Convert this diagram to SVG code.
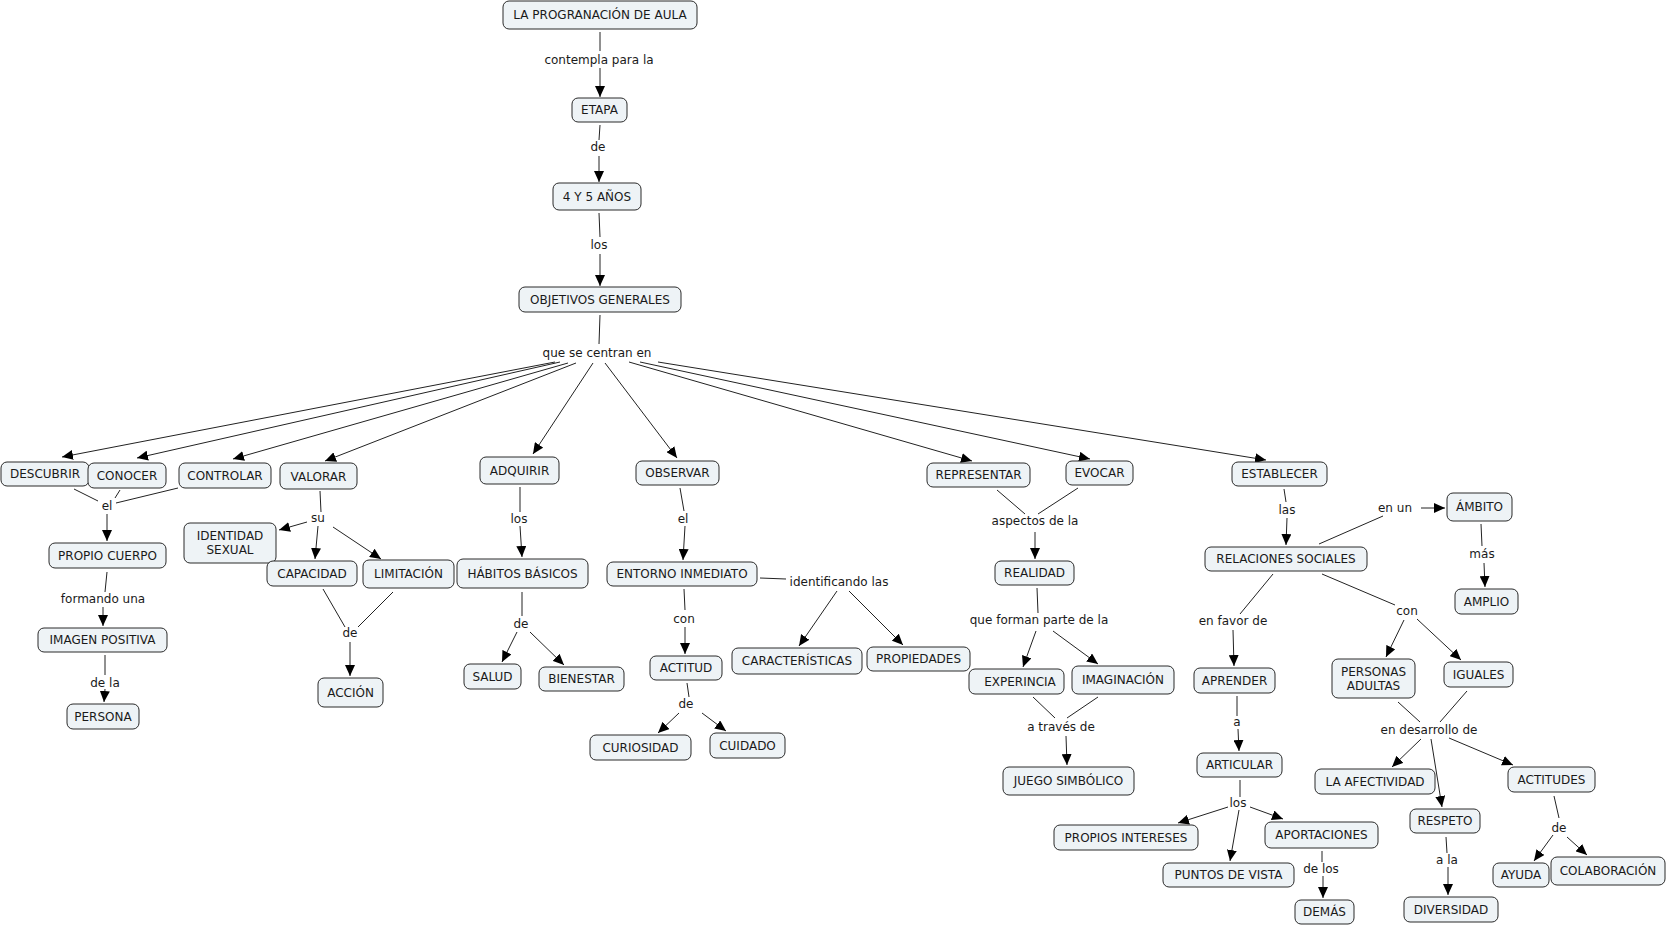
<svg xmlns="http://www.w3.org/2000/svg" width="1667" height="927" viewBox="0 0 1667 927">
<style>
.n rect{fill:#eef3f6;stroke:#2a2a2a;stroke-width:1}
text{font-family:"DejaVu Sans",Verdana,sans-serif;font-size:12px;fill:#1a1a1a;text-anchor:middle}
#links line{stroke:#222;stroke-width:1}
#links line.a{marker-end:url(#ah)}
</style>
<defs>
<marker id="ah" viewBox="0 0 11 10" refX="11" refY="5" markerWidth="11" markerHeight="10" markerUnits="userSpaceOnUse" orient="auto"><path d="M0,0 L11,5 L0,10 z" fill="#000"/></marker>
</defs>
<rect width="1667" height="927" fill="#fff"/>
<g id="links">
<line x1="600" y1="32" x2="600" y2="51"/>
<line class="a" x1="600" y1="68" x2="600" y2="97"/>
<line x1="600" y1="125" x2="599" y2="140"/>
<line class="a" x1="599" y1="156" x2="599" y2="182"/>
<line x1="599" y1="213" x2="600" y2="237"/>
<line class="a" x1="600" y1="254" x2="600" y2="286"/>
<line x1="600" y1="315" x2="599" y2="344"/>
<line class="a" x1="555" y1="362" x2="62" y2="457"/>
<line class="a" x1="560" y1="362" x2="137" y2="458"/>
<line class="a" x1="568" y1="363" x2="233" y2="459"/>
<line class="a" x1="576" y1="363" x2="325" y2="461"/>
<line class="a" x1="593" y1="363" x2="533" y2="454"/>
<line class="a" x1="605" y1="363" x2="677" y2="458"/>
<line class="a" x1="629" y1="362" x2="972" y2="461"/>
<line class="a" x1="640" y1="362" x2="1090" y2="459"/>
<line class="a" x1="658" y1="362" x2="1266" y2="460"/>
<line x1="74" y1="489" x2="98" y2="501"/>
<line x1="120" y1="490" x2="115" y2="498"/>
<line x1="178" y1="488" x2="116" y2="503"/>
<line class="a" x1="107" y1="514" x2="107" y2="541"/>
<line x1="107" y1="572" x2="105" y2="592"/>
<line class="a" x1="103" y1="607" x2="103" y2="626"/>
<line x1="105" y1="655" x2="105" y2="675"/>
<line class="a" x1="105" y1="689" x2="104" y2="702"/>
<line x1="320" y1="491" x2="321" y2="512"/>
<line class="a" x1="307" y1="522" x2="279" y2="530"/>
<line class="a" x1="318" y1="526" x2="315" y2="559"/>
<line class="a" x1="333" y1="527" x2="381" y2="559"/>
<line x1="323" y1="589" x2="345" y2="627"/>
<line x1="393" y1="592" x2="358" y2="627"/>
<line class="a" x1="350" y1="642" x2="350" y2="676"/>
<line x1="520" y1="487" x2="520" y2="512"/>
<line class="a" x1="520" y1="526" x2="522" y2="557"/>
<line x1="522" y1="592" x2="522" y2="616"/>
<line class="a" x1="517" y1="632" x2="502" y2="662"/>
<line class="a" x1="530" y1="632" x2="564" y2="665"/>
<line x1="680" y1="488" x2="684" y2="511"/>
<line class="a" x1="685" y1="526" x2="683" y2="560"/>
<line x1="684" y1="589" x2="685" y2="610"/>
<line class="a" x1="685" y1="627" x2="685" y2="654"/>
<line x1="687" y1="683" x2="689" y2="697"/>
<line class="a" x1="679" y1="713" x2="658" y2="733"/>
<line class="a" x1="702" y1="713" x2="726" y2="731"/>
<line x1="760" y1="578" x2="786" y2="579"/>
<line class="a" x1="837" y1="591" x2="799" y2="646"/>
<line class="a" x1="849" y1="591" x2="903" y2="645"/>
<line x1="997" y1="490" x2="1025" y2="514"/>
<line x1="1078" y1="488" x2="1038" y2="514"/>
<line class="a" x1="1035" y1="532" x2="1035" y2="559"/>
<line x1="1037" y1="588" x2="1038" y2="613"/>
<line class="a" x1="1036" y1="631" x2="1023" y2="667"/>
<line class="a" x1="1053" y1="631" x2="1098" y2="664"/>
<line x1="1033" y1="697" x2="1055" y2="718"/>
<line x1="1098" y1="697" x2="1067" y2="718"/>
<line class="a" x1="1066" y1="736" x2="1067" y2="765"/>
<line x1="1284" y1="489" x2="1286" y2="502"/>
<line class="a" x1="1287" y1="518" x2="1286" y2="545"/>
<line x1="1319" y1="544" x2="1383" y2="516"/>
<line class="a" x1="1421" y1="508" x2="1445" y2="508"/>
<line x1="1481" y1="524" x2="1482" y2="546"/>
<line class="a" x1="1484" y1="563" x2="1485" y2="587"/>
<line x1="1273" y1="574" x2="1240" y2="614"/>
<line class="a" x1="1233" y1="630" x2="1234" y2="666"/>
<line x1="1237" y1="696" x2="1237" y2="716"/>
<line class="a" x1="1238" y1="729" x2="1239" y2="751"/>
<line x1="1240" y1="780" x2="1240" y2="797"/>
<line class="a" x1="1228" y1="807" x2="1178" y2="823"/>
<line class="a" x1="1239" y1="810" x2="1230" y2="861"/>
<line class="a" x1="1250" y1="807" x2="1283" y2="819"/>
<line x1="1322" y1="851" x2="1322" y2="862"/>
<line class="a" x1="1323" y1="876" x2="1323" y2="898"/>
<line x1="1322" y1="574" x2="1395" y2="605"/>
<line class="a" x1="1404" y1="620" x2="1386" y2="657"/>
<line class="a" x1="1417" y1="619" x2="1461" y2="660"/>
<line x1="1398" y1="702" x2="1420" y2="722"/>
<line x1="1467" y1="691" x2="1440" y2="722"/>
<line class="a" x1="1421" y1="739" x2="1392" y2="767"/>
<line class="a" x1="1431" y1="739" x2="1442" y2="807"/>
<line class="a" x1="1449" y1="738" x2="1513" y2="765"/>
<line x1="1446" y1="837" x2="1447" y2="853"/>
<line class="a" x1="1448" y1="867" x2="1448" y2="895"/>
<line x1="1554" y1="796" x2="1559" y2="818"/>
<line class="a" x1="1553" y1="835" x2="1534" y2="861"/>
<line class="a" x1="1567" y1="837" x2="1587" y2="855"/>
</g>
<g id="labels">
<text x="599" y="64">contempla para la</text>
<text x="598" y="151">de</text>
<text x="599" y="249">los</text>
<text x="597" y="357">que se centran en</text>
<text x="107" y="510">el</text>
<text x="103" y="603">formando una</text>
<text x="105" y="687">de la</text>
<text x="318" y="522">su</text>
<text x="350" y="637">de</text>
<text x="519" y="523">los</text>
<text x="521" y="628">de</text>
<text x="683" y="523">el</text>
<text x="684" y="623">con</text>
<text x="686" y="708">de</text>
<text x="839" y="586">identificando las</text>
<text x="1035" y="525">aspectos de la</text>
<text x="1039" y="624">que forman parte de la</text>
<text x="1061" y="731">a través de</text>
<text x="1287" y="514">las</text>
<text x="1395" y="512">en un</text>
<text x="1482" y="558">más</text>
<text x="1233" y="625">en favor de</text>
<text x="1407" y="615">con</text>
<text x="1237" y="726">a</text>
<text x="1429" y="734">en desarrollo de</text>
<text x="1238" y="807">los</text>
<text x="1321" y="873">de los</text>
<text x="1447" y="864">a la</text>
<text x="1559" y="832">de</text>
</g>
<g id="n1" class="n"><rect x="503" y="1" width="194" height="28" rx="6"/><text x="600" y="19.4">LA PROGRANACIÓN DE AULA</text></g>
<g id="n2" class="n"><rect x="572" y="98" width="55" height="24" rx="6"/><text x="599.5" y="114.4">ETAPA</text></g>
<g id="n3" class="n"><rect x="553" y="183" width="88" height="27" rx="6"/><text x="597" y="201">4 Y 5 AÑOS</text></g>
<g id="n4" class="n"><rect x="519" y="287" width="162" height="25" rx="6"/><text x="600" y="304">OBJETIVOS GENERALES</text></g>
<g id="n5" class="n"><rect x="1" y="462" width="88" height="24" rx="6"/><text x="45" y="478">DESCUBRIR</text></g>
<g id="n6" class="n"><rect x="88" y="463" width="78" height="25" rx="6"/><text x="127" y="480">CONOCER</text></g>
<g id="n7" class="n"><rect x="179" y="463" width="92" height="25" rx="6"/><text x="225" y="480">CONTROLAR</text></g>
<g id="n8" class="n"><rect x="280" y="463" width="77" height="26" rx="6"/><text x="318.5" y="480.5">VALORAR</text></g>
<g id="n9" class="n"><rect x="49" y="543" width="117" height="25" rx="6"/><text x="107.5" y="560">PROPIO CUERPO</text></g>
<g id="n10" class="n"><rect x="38" y="628" width="129" height="24" rx="6"/><text x="102.5" y="644.4">IMAGEN POSITIVA</text></g>
<g id="n11" class="n"><rect x="67" y="704" width="72" height="25" rx="6"/><text x="103" y="721">PERSONA</text></g>
<g id="n12" class="n"><rect x="184" y="523" width="92" height="40" rx="6"/><text x="230" y="540.4">IDENTIDAD</text><text x="230" y="554.4">SEXUAL</text></g>
<g id="n13" class="n"><rect x="267" y="561" width="90" height="25" rx="6"/><text x="312" y="578">CAPACIDAD</text></g>
<g id="n14" class="n"><rect x="363" y="560" width="91" height="28" rx="6"/><text x="408.5" y="578.4">LIMITACIÓN</text></g>
<g id="n15" class="n"><rect x="318" y="678" width="65" height="29" rx="6"/><text x="350.5" y="697">ACCIÓN</text></g>
<g id="n16" class="n"><rect x="480" y="457" width="79" height="27" rx="6"/><text x="519.5" y="474.5">ADQUIRIR</text></g>
<g id="n17" class="n"><rect x="457" y="559" width="131" height="29" rx="6"/><text x="522.5" y="578">HÁBITOS BÁSICOS</text></g>
<g id="n18" class="n"><rect x="464" y="664" width="57" height="25" rx="6"/><text x="492.5" y="681">SALUD</text></g>
<g id="n19" class="n"><rect x="539" y="667" width="85" height="24" rx="6"/><text x="581.5" y="683.4">BIENESTAR</text></g>
<g id="n20" class="n"><rect x="636" y="461" width="83" height="24" rx="6"/><text x="677.5" y="477.4">OBSERVAR</text></g>
<g id="n21" class="n"><rect x="607" y="562" width="150" height="24" rx="6"/><text x="682" y="578.4">ENTORNO INMEDIATO</text></g>
<g id="n22" class="n"><rect x="650" y="656" width="72" height="24" rx="6"/><text x="686" y="672.4">ACTITUD</text></g>
<g id="n23" class="n"><rect x="590" y="735" width="101" height="25" rx="6"/><text x="640.5" y="752">CURIOSIDAD</text></g>
<g id="n24" class="n"><rect x="710" y="733" width="75" height="25" rx="6"/><text x="747.5" y="750">CUIDADO</text></g>
<g id="n25" class="n"><rect x="732" y="648" width="130" height="26" rx="6"/><text x="797" y="665.4">CARACTERÍSTICAS</text></g>
<g id="n26" class="n"><rect x="867" y="647" width="103" height="24" rx="6"/><text x="918.5" y="663.4">PROPIEDADES</text></g>
<g id="n27" class="n"><rect x="927" y="463" width="103" height="24" rx="6"/><text x="978.5" y="479.4">REPRESENTAR</text></g>
<g id="n28" class="n"><rect x="1066" y="461" width="67" height="24" rx="6"/><text x="1099.5" y="477.4">EVOCAR</text></g>
<g id="n29" class="n"><rect x="995" y="561" width="79" height="24" rx="6"/><text x="1034.5" y="577.4">REALIDAD</text></g>
<g id="n30" class="n"><rect x="969" y="669" width="95" height="25" rx="6"/><text x="1020" y="686">EXPERINCIA</text></g>
<g id="n31" class="n"><rect x="1072" y="666" width="102" height="28" rx="6"/><text x="1123" y="684.4">IMAGINACIÓN</text></g>
<g id="n32" class="n"><rect x="1003" y="767" width="131" height="28" rx="6"/><text x="1068.5" y="785.4">JUEGO SIMBÓLICO</text></g>
<g id="n33" class="n"><rect x="1232" y="462" width="95" height="24" rx="6"/><text x="1279.5" y="478.4">ESTABLECER</text></g>
<g id="n34" class="n"><rect x="1205" y="547" width="162" height="24" rx="6"/><text x="1286" y="563.4">RELACIONES SOCIALES</text></g>
<g id="n35" class="n"><rect x="1447" y="493" width="65" height="28" rx="6"/><text x="1479.5" y="511.4">ÁMBITO</text></g>
<g id="n36" class="n"><rect x="1455" y="589" width="63" height="25" rx="6"/><text x="1486.5" y="606">AMPLIO</text></g>
<g id="n37" class="n"><rect x="1194" y="668" width="81" height="25" rx="6"/><text x="1234.5" y="685">APRENDER</text></g>
<g id="n38" class="n"><rect x="1197" y="753" width="85" height="24" rx="6"/><text x="1239.5" y="769.4">ARTICULAR</text></g>
<g id="n39" class="n"><rect x="1054" y="825" width="144" height="25" rx="6"/><text x="1126" y="842">PROPIOS INTERESES</text></g>
<g id="n40" class="n"><rect x="1163" y="863" width="131" height="24" rx="6"/><text x="1228.5" y="879.4">PUNTOS DE VISTA</text></g>
<g id="n41" class="n"><rect x="1265" y="822" width="113" height="26" rx="6"/><text x="1321.5" y="839.4">APORTACIONES</text></g>
<g id="n42" class="n"><rect x="1295" y="900" width="59" height="24" rx="6"/><text x="1324.5" y="916.4">DEMÁS</text></g>
<g id="n43" class="n"><rect x="1332" y="659" width="83" height="39" rx="6"/><text x="1373.5" y="676.4">PERSONAS</text><text x="1373.5" y="690.4">ADULTAS</text></g>
<g id="n44" class="n"><rect x="1444" y="662" width="69" height="25" rx="6"/><text x="1478.5" y="679">IGUALES</text></g>
<g id="n45" class="n"><rect x="1315" y="769" width="120" height="25" rx="6"/><text x="1375" y="786">LA AFECTIVIDAD</text></g>
<g id="n46" class="n"><rect x="1410" y="809" width="70" height="24" rx="6"/><text x="1445" y="825.4">RESPETO</text></g>
<g id="n47" class="n"><rect x="1404" y="897" width="94" height="25" rx="6"/><text x="1451" y="914">DIVERSIDAD</text></g>
<g id="n48" class="n"><rect x="1508" y="767" width="87" height="25" rx="6"/><text x="1551.5" y="784">ACTITUDES</text></g>
<g id="n49" class="n"><rect x="1493" y="863" width="56" height="24" rx="6"/><text x="1521" y="879.4">AYUDA</text></g>
<g id="n50" class="n"><rect x="1551" y="857" width="114" height="28" rx="6"/><text x="1608" y="875.4">COLABORACIÓN</text></g>
</svg>
